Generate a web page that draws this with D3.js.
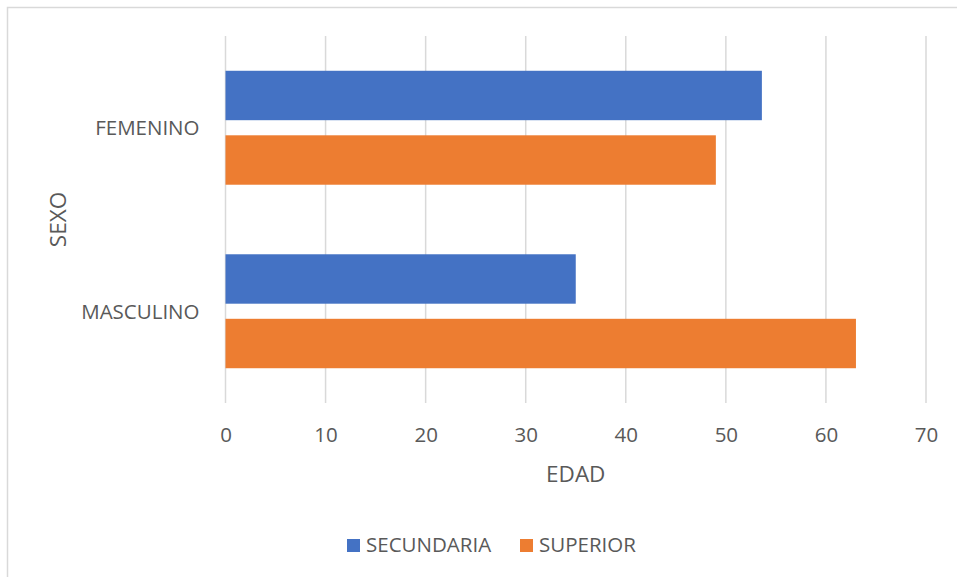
<!DOCTYPE html>
<html>
<head>
<meta charset="utf-8">
<script src="https://cdn.jsdelivr.net/npm/d3@7"></script>
<style>
  html, body { margin: 0; padding: 0; background: #fff; }
  svg { display: block; }
  text { font-family: "Open Sans", "Noto Sans", sans-serif; fill: #595959; }
</style>
</head>
<body>
<svg id="chart" width="957" height="577"></svg>
<script>
// Age by sex and education level
const categories = ["FEMENINO", "MASCULINO"];
const seriesNames = ["SECUNDARIA", "SUPERIOR"];
const secundaria = [53.6, 35];
const superior = [49, 63];
const xTicks = [0, 10, 20, 30, 40, 50, 60, 70];
const colors = ["#4472C4", "#ED7D31"];

const seriesValues = [secundaria, superior];
const rows = categories.map((c, i) => ({
  category: c,
  values: seriesNames.map((s, j) => ({ series: s, value: seriesValues[j][i], color: colors[j] }))
}));

const svg = d3.select("#chart");

// chart frame
svg.append("rect")
  .attr("x", 7.5).attr("y", 7.5)
  .attr("width", 970).attr("height", 590)
  .attr("fill", "#fff")
  .attr("stroke", "#d9d9d9").attr("stroke-width", 1.5);

const plot = { left: 225.5, right: 926, top: 36, bottom: 403 };

const x = d3.scaleLinear().domain([0, 70]).range([plot.left, plot.right]);
const y = d3.scaleBand().domain(categories).range([plot.top, plot.bottom])
  .paddingInner(0.379).paddingOuter(0.379 / 2);
const ySub = d3.scaleBand().domain(seriesNames).range([0, y.bandwidth()])
  .paddingInner(0.234).paddingOuter(0);

// vertical gridlines
svg.append("g")
  .selectAll("line")
  .data(xTicks)
  .join("line")
  .attr("x1", d => x(d)).attr("x2", d => x(d))
  .attr("y1", plot.top).attr("y2", plot.bottom)
  .attr("stroke", "#d9d9d9").attr("stroke-width", 1.5);

// bars
const groups = svg.append("g")
  .selectAll("g")
  .data(rows)
  .join("g")
  .attr("transform", d => `translate(0,${y(d.category)})`);

groups.selectAll("rect")
  .data(d => d.values)
  .join("rect")
  .attr("x", x(0))
  .attr("y", d => ySub(d.series))
  .attr("width", d => x(d.value) - x(0))
  .attr("height", ySub.bandwidth())
  .attr("fill", d => d.color);

// x axis tick labels
const xAxis = d3.axisBottom(x).tickValues(xTicks).tickSize(0).tickPadding(0).tickFormat(d3.format("d"));
const gx = svg.append("g").attr("transform", `translate(0,${plot.bottom})`).call(xAxis);
gx.select(".domain").remove();
gx.selectAll("text")
  .attr("y", 39).attr("dy", null)
  .style("font-size", "20.5px").style("fill", "#595959")
  .style("font-family", "'Open Sans', sans-serif");

// y axis category labels
const yAxis = d3.axisLeft(y).tickSize(0).tickPadding(0);
const gy = svg.append("g").attr("transform", `translate(${plot.left},0)`).call(yAxis);
gy.select(".domain").remove();
gy.selectAll("text")
  .attr("x", -26).attr("dy", "0.36em")
  .style("font-size", "20.5px").style("fill", "#595959")
  .style("font-family", "'Open Sans', sans-serif");

// axis titles
svg.append("text")
  .attr("x", (plot.left + plot.right) / 2).attr("y", 482)
  .attr("text-anchor", "middle")
  .style("font-size", "22.5px")
  .text("EDAD");

svg.append("text")
  .attr("transform", `translate(66,${(plot.top + plot.bottom) / 2}) rotate(-90)`)
  .attr("text-anchor", "middle")
  .style("font-size", "22.5px")
  .text("SEXO");

// legend
const legend = svg.append("g");
const legendItems = [
  { name: seriesNames[0], color: colors[0], x: 347 },
  { name: seriesNames[1], color: colors[1], x: 520 }
];
legendItems.forEach(it => {
  legend.append("rect")
    .attr("x", it.x).attr("y", 539)
    .attr("width", 13).attr("height", 13)
    .attr("fill", it.color);
  legend.append("text")
    .attr("x", it.x + 19).attr("y", 552)
    .style("font-size", "20.5px")
    .text(it.name);
});
</script>
</body>
</html>
